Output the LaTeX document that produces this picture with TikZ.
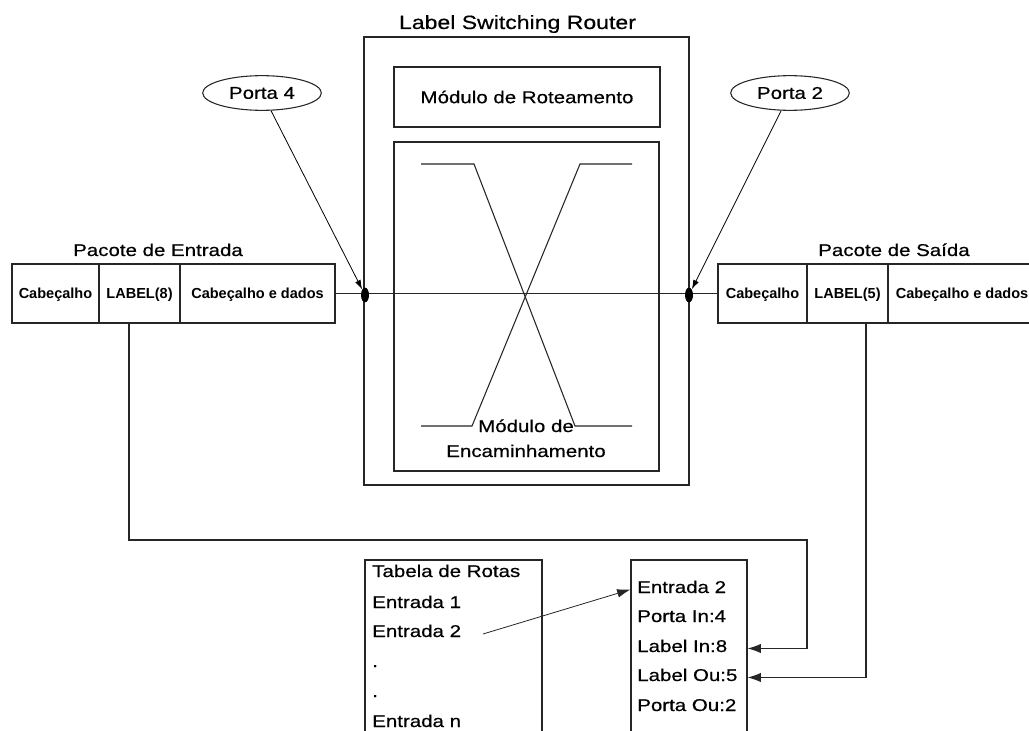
\documentclass[tikz,border=0pt]{standalone}
\usepackage{fontspec}
\setmainfont{Liberation Sans}[FakeStretch=1.2,FakeBold=0.5]
\newfontfamily\fieldfont{Liberation Sans}
\usetikzlibrary{shapes.geometric,arrows.meta,calc}
\tikzset{
  ln/.style={draw=black!85, line width=0.8pt},
  txt/.style={font={\fontsize{12.8pt}{15pt}\selectfont}, inner sep=0pt},
  ttl/.style={font={\fontsize{14.4pt}{17pt}\selectfont}, inner sep=0pt},
  box/.style={ln, rectangle, inner sep=0pt},
  cell/.style={box, font={\fieldfont\bfseries\fontsize{10.9pt}{13pt}\selectfont}, text height=7.8pt, text depth=0pt},
  port/.style={ln, ellipse, inner sep=0pt, minimum width=89pt, minimum height=26pt, font={\fontsize{12.8pt}{15pt}\selectfont}},
  blob/.style={fill=black, draw=none, ellipse, inner sep=0pt, minimum width=6pt, minimum height=11pt},
  arr/.style={ln, -{Latex[length=10pt,width=7pt]}},
  parr/.style={draw=black, line width=0.6pt, -{Latex[length=7pt,width=4.5pt]}},
}
\begin{document}
\begin{tikzpicture}[x=0.75pt,y=-0.75pt]
\path[fill=white] (0,0) rectangle (1029,731);
\useasboundingbox (0,0) rectangle (1029,731);

% Label Switching Router
\node[ttl, anchor=base] (lsrt) at (517.5,29) {Label Switching Router};
\node[box, minimum width=243.75pt, minimum height=336pt] (lsr) at (526.5,261) {};
\node[box, minimum width=199.5pt, minimum height=45pt, font={\fontsize{12.8pt}{15pt}\selectfont}, text height=9.2pt, text depth=0pt] (rot) at (527,97) {Módulo de Roteamento};
\node[box, minimum width=198.75pt, minimum height=246.75pt] (enc) at (526.5,306.5) {};
\node[txt, anchor=base] (enct1) at (526,432) {Módulo de};
\node[txt, anchor=base] (enct2) at (526,457) {Encaminhamento};
% crossbar
\draw[ln] (421,164) -- (474,164) -- (575,426) -- (632,426);
\draw[ln] (632,164) -- (580,164) -- (472,426) -- (421,426);

% ports
\node[port] (p4) at (262,93) {Porta 4};
\node[port] (p2) at (790,93) {Porta 2};

% Pacote de Entrada
\node[txt, anchor=base] (pet) at (158,256) {Pacote de Entrada};
\node[cell, minimum width=65.25pt, minimum height=44.25pt] (e1) at (55.5,293.5) {Cabeçalho};
\node[cell, minimum width=60.75pt, minimum height=44.25pt] (e2) at (139.5,293.5) {LABEL(8)};
\node[cell, minimum width=116.25pt, minimum height=44.25pt] (e3) at (257.5,293.5) {Cabeçalho e dados};

% Pacote de Saida
\node[txt, anchor=base] (pst) at (894,256) {Pacote de Saída};
\node[cell, minimum width=66.75pt, minimum height=44.25pt] (s1) at (762.5,293.5) {Cabeçalho};
\node[cell, minimum width=60.75pt, minimum height=44.25pt] (s2) at (847.5,293.5) {LABEL(5)};
\node[cell, minimum width=111pt, minimum height=44.25pt] (s3) at (962,293.5) {Cabeçalho e dados};

% main line and port markers
\draw[ln] (e3.east) -- (s1.west);
\node[blob] (b4) at (365,295) {};
\node[blob] (b2) at (689,295) {};
\draw[parr] (p4) -- (b4);
\draw[parr] (p2) -- (b2);

% tables
\node[box, minimum width=132.75pt, minimum height=138.75pt] (tb) at (453.5,652.5) {};
\node[box, minimum width=87pt, minimum height=138.75pt] (rb) at (689,652.5) {};

\node[txt, anchor=base west] (t0) at (372,577) {Tabela de Rotas};
\node[txt, anchor=base west] (t1) at (372,608) {Entrada 1};
\node[txt, anchor=base west] (t2) at (372,637) {Entrada 2};
\node[txt, anchor=base west] (t3) at (372,667) {.};
\node[txt, anchor=base west] (t4) at (372,697) {.};
\node[txt, anchor=base west] (t5) at (372,727) {Entrada n};

\node[txt, anchor=base west] (r1) at (637,593) {Entrada 2};
\node[txt, anchor=base west] (r2) at (637,622) {Porta In:4};
\node[txt, anchor=base west] (r3) at (637,652) {Label In:8};
\node[txt, anchor=base west] (r4) at (637,681) {Label Ou:5};
\node[txt, anchor=base west] (r5) at (637,711) {Porta Ou:2};

% connectors
\coordinate (tap8) at (129,323);
\coordinate (k8) at (807,540);
\coordinate (tap5) at (866,323);
\coordinate (a0) at (483,634);
\draw[arr] (tap8) |- (k8) |- (rb.east |- r3.mid);
\draw[arr] (tap5) |- (rb.east |- r4.mid);
\draw[ln, line width=0.6pt, -{Latex[length=10pt,width=6.5pt]}] (a0) -- (rb.west |- r1.mid);
\end{tikzpicture}
\end{document}
